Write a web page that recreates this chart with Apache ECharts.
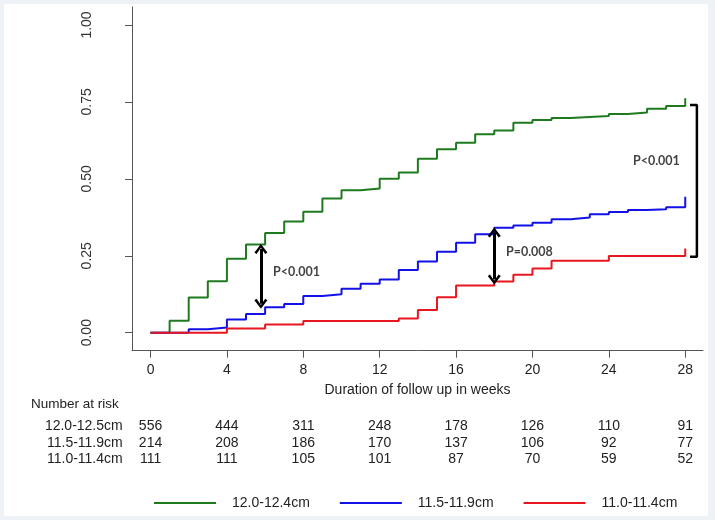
<!DOCTYPE html>
<html><head><meta charset="utf-8">
<script src="https://cdn.jsdelivr.net/npm/echarts@6/dist/echarts.min.js"></script>
<style>html,body{margin:0;padding:0;background:#fff}#c{width:715px;height:520px}</style>
</head><body><div id="c"></div>
<script>
// ---- data ----
const weekTicks = [0, 4, 8, 12, 16, 20, 24, 28];
const yTicks = [0, 0.25, 0.5, 0.75, 1];
const groupNames = ['12.0-12.4cm', '11.5-11.9cm', '11.0-11.4cm'];
const riskLabels = ['12.0-12.5cm', '11.5-11.9cm', '11.0-11.4cm'];

const greenT = [0, 1, 2, 3, 4, 5, 6, 7, 8, 9, 10, 11, 12, 13, 14, 15, 16, 17, 18, 19, 20, 21, 22, 23, 24, 25, 26, 27, 28];
const greenV = [0, 0.039, 0.114, 0.167, 0.24, 0.287, 0.324, 0.361, 0.393, 0.436, 0.463, 0.469, 0.50, 0.521, 0.565, 0.596, 0.617, 0.645, 0.657, 0.682, 0.691, 0.698, 0.701, 0.704, 0.711, 0.716, 0.728, 0.737, 0.762];

const blueT = [0, 2, 3, 4, 5, 6, 7, 8, 9, 10, 11, 12, 13, 14, 15, 16, 17, 18, 19, 20, 21, 22, 23, 24, 25, 26, 27, 28];
const blueV = [0, 0.011, 0.017, 0.043, 0.061, 0.083, 0.093, 0.119, 0.125, 0.143, 0.159, 0.173, 0.204, 0.231, 0.263, 0.292, 0.320, 0.341, 0.348, 0.357, 0.369, 0.374, 0.385, 0.392, 0.399, 0.401, 0.408, 0.442];

const redT = [0, 4, 6, 8, 13, 14, 15, 16, 18, 19, 20, 21, 24, 28];
const redV = [0, 0.014, 0.027, 0.038, 0.046, 0.074, 0.115, 0.153, 0.166, 0.188, 0.209, 0.234, 0.249, 0.274];

const risk12 = [556, 444, 311, 248, 178, 126, 110, 91];
const risk115 = [214, 208, 186, 170, 137, 106, 92, 77];
const risk11 = [111, 111, 105, 101, 87, 70, 59, 52];

// annotations (data coordinates)
const arrow1 = [[5.78, 0.272], [5.78, 0.094]];
const arrow2 = [[18.0, 0.326], [18.0, 0.173]];
const bracket = [[28.25, 0.740], [28.61, 0.740], [28.61, 0.247], [28.25, 0.247]];
const pTexts = [
  { value: [6.41, 0.198], name: 'P<0.001' },
  { value: [18.61, 0.262], name: 'P=0.008' },
  { value: [25.26, 0.558], name: 'P<0.001' }
];

// ---- chart ----
const FONT = "'Liberation Sans', Arial, sans-serif";
const colors = ['#1e7a1e', '#1212e6', '#e8161e'];
const zip = (t, v) => t.map((x, i) => [x, v[i]]);
const chart = echarts.init(document.getElementById('c'), null, { renderer: 'canvas' });

const chevron = 'path://M0,9 L6,0 L12,9 L10,10.5 L6,4 L2,10.5 Z';

chart.setOption({
  animation: false,
  backgroundColor: '#ffffff',
  grid: { left: 132, right: 12, top: 7, bottom: 169.3, containLabel: false },
  xAxis: {
    type: 'value', min: -0.97, max: 28.93,
    name: 'Duration of follow up in weeks', nameLocation: 'middle', nameGap: 32,
    nameTextStyle: { fontFamily: FONT, fontSize: 14, color: '#222' },
    axisLine: { show: true, onZero: false, lineStyle: { color: '#555', width: 1 } },
    axisTick: { show: true, length: 7, customValues: weekTicks, lineStyle: { color: '#555' } },
    axisLabel: { customValues: weekTicks, margin: 12, fontFamily: FONT, fontSize: 14, color: '#222' },
    splitLine: { show: false }
  },
  yAxis: {
    type: 'value', min: -0.0585, max: 1.0585,
    axisLine: { show: true, onZero: false, lineStyle: { color: '#555', width: 1 } },
    axisTick: { show: true, length: 7, customValues: yTicks, lineStyle: { color: '#555' } },
    axisLabel: {
      customValues: yTicks, rotate: 90, margin: 38, fontFamily: FONT, fontSize: 14, color: '#333',
      formatter: v => v.toFixed(2)
    },
    splitLine: { show: false }
  },
  legend: {
    data: groupNames, left: 149, top: 490, icon: 'rect', itemWidth: 62, itemHeight: 2, itemGap: 30,
    textStyle: { fontFamily: FONT, fontSize: 14, color: '#222', padding: [0, 0, 0, 11], lineHeight: 16 }
  },
  series: [
    { name: groupNames[0], type: 'line', step: 'end', data: zip(greenT, greenV), showSymbol: false, symbol: 'none',
      lineStyle: { color: colors[0], width: 2 }, itemStyle: { color: colors[0] }, z: 2 },
    { name: groupNames[1], type: 'line', step: 'end', data: zip(blueT, blueV), showSymbol: false, symbol: 'none',
      lineStyle: { color: colors[1], width: 2 }, itemStyle: { color: colors[1] }, z: 3 },
    { name: groupNames[2], type: 'line', step: 'end', data: zip(redT, redV), showSymbol: false, symbol: 'none',
      lineStyle: { color: colors[2], width: 2 }, itemStyle: { color: colors[2] }, z: 4 },
    { name: 'bracket', type: 'line', data: bracket, symbol: 'none', showSymbol: false,
      lineStyle: { color: '#000', width: 2.5 }, z: 5, silent: true,
      markLine: {
        silent: true, symbol: [chevron, chevron], symbolSize: [13, 10], symbolOffset: 0,
        label: { show: false },
        lineStyle: { color: '#000', width: 3, type: 'solid' },
        data: [
          [{ coord: arrow1[0] }, { coord: arrow1[1] }],
          [{ coord: arrow2[0] }, { coord: arrow2[1] }]
        ]
      }
    },
    { name: 'ptext', type: 'scatter', data: pTexts, symbolSize: 0, silent: true, z: 6,
      label: { show: true, position: 'right', distance: 0, formatter: p => p.name,
        fontFamily: "Lato, 'Liberation Sans', sans-serif", fontWeight: 'bold', fontSize: 12.5, color: '#111' } }
  ]
});

// number-at-risk table placed through the x axis scale
const rows = [risk12, risk115, risk11];
const rowY = [425.7, 442.7, 459];
const g = [];
g.push({ type: 'text', left: 31, top: 405.7 - 8, style: { text: 'Number at risk', font: "13.5px " + FONT, fill: '#222' } });
rows.forEach((r, i) => {
  g.push({ type: 'text', x: 122.7, y: rowY[i], style: { text: riskLabels[i], font: '14px ' + FONT, fill: '#222', align: 'right', verticalAlign: 'middle' } });
  r.forEach((n, j) => {
    const px = chart.convertToPixel({ xAxisIndex: 0 }, weekTicks[j]);
    g.push({ type: 'text', x: px, y: rowY[i], style: { text: String(n), font: '14px ' + FONT, fill: '#222', align: 'center', verticalAlign: 'middle' } });
  });
});
// light frame around the picture
const fc = '#eef2f6';
g.push({ type: 'rect', shape: { x: 0, y: 0, width: 715, height: 4 }, style: { fill: fc }, silent: true });
g.push({ type: 'rect', shape: { x: 0, y: 516, width: 715, height: 4 }, style: { fill: fc }, silent: true });
g.push({ type: 'rect', shape: { x: 0, y: 0, width: 4, height: 520 }, style: { fill: fc }, silent: true });
g.push({ type: 'rect', shape: { x: 708, y: 0, width: 7, height: 520 }, style: { fill: fc }, silent: true });
chart.setOption({ graphic: g });
</script>
</body></html>
